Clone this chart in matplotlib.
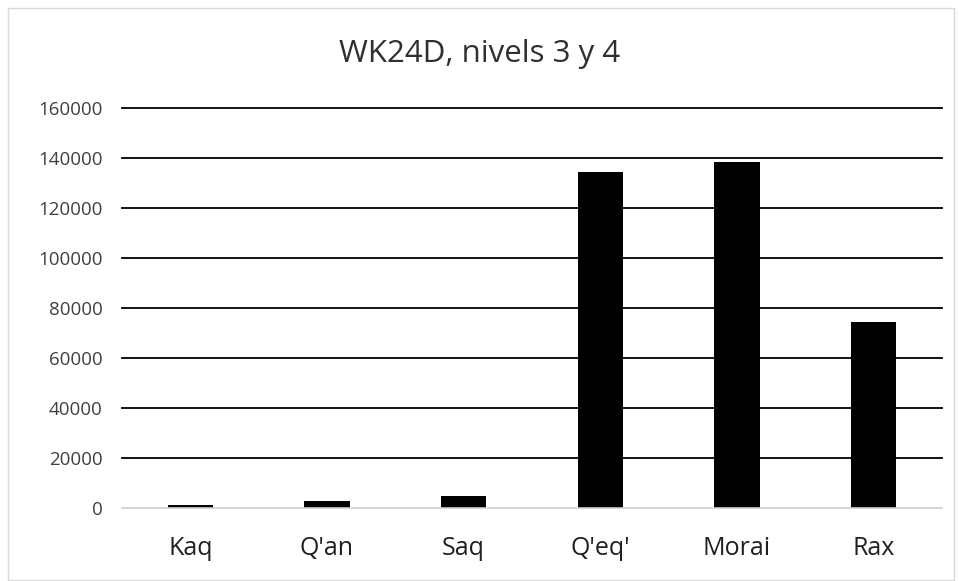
import matplotlib.pyplot as plt
from matplotlib.patches import Rectangle

# data
categories = ["Kaq", "Q'an", "Saq", "Q'eq'", "Morai", "Rax"]
values = [1100, 2700, 5000, 134400, 138400, 74500]
yticks = [0, 20000, 40000, 60000, 80000, 100000, 120000, 140000, 160000]

plt.rcParams['font.family'] = ['Open Sans', 'DejaVu Sans']

fig = plt.figure(figsize=(9.59, 5.81), dpi=100)
ax = fig.add_axes([122 / 959, 1 - 508 / 581, 820 / 959, 400 / 581])

# light border around the whole chart area
fig.patches.append(Rectangle((8 / 959, 0.002), 0.995 - 8 / 959, 1 - 8 / 581 - 0.002,
                             transform=fig.transFigure, fill=False,
                             edgecolor='#d9d9d9', linewidth=1))

x = range(len(categories))
ax.bar(x, values, width=0.33, color='black', zorder=3)

ax.set_xlim(-0.5, len(categories) - 0.5)
ax.set_ylim(0, 160000)
ax.set_yticks(yticks)
ax.set_yticklabels([str(t) for t in yticks], fontsize=13.5, color='#404040')
ax.set_xticks(list(x))
ax.set_xticklabels(categories, fontsize=18, color='#202020')

# black gridlines, light grey baseline
ax.grid(axis='y', color='black', linewidth=1.3, zorder=0)
ax.set_axisbelow(True)
for i, gl in enumerate(ax.yaxis.get_gridlines()):
    gl.set_clip_on(False)
    if i == 0:
        gl.set_visible(False)
for s in ['top', 'right', 'left']:
    ax.spines[s].set_visible(False)
ax.spines['bottom'].set_color('#d0d0d0')
ax.spines['bottom'].set_linewidth(1.2)
ax.spines['bottom'].set_zorder(4)
ax.tick_params(axis='both', length=0)
ax.tick_params(axis='y', pad=14)
ax.tick_params(axis='x', pad=20)

fig.text(0.5, 1 - 62 / 581, 'WK24D, nivels 3 y 4', ha='center', va='baseline',
         fontsize=22.5, color='#303030')

plt.savefig('out.png', dpi=100)
